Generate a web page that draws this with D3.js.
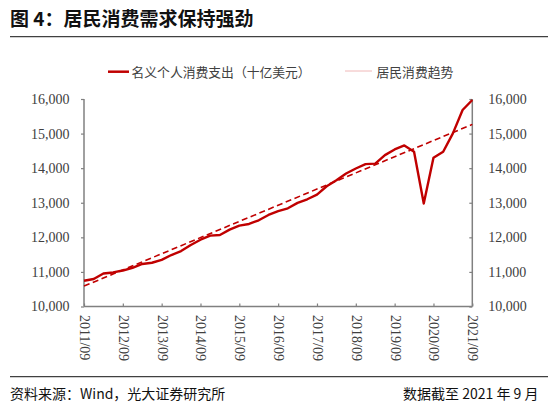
<!DOCTYPE html>
<html><head><meta charset="utf-8">
<script src="https://cdn.jsdelivr.net/npm/d3@7"></script>
<style>
html,body{margin:0;padding:0;background:#fff;}
svg{display:block;}
</style>
</head><body>
<svg id="chart" width="550" height="405"></svg>
<script>
const quarters = ["2011/09","2011/12","2012/03","2012/06","2012/09","2012/12","2013/03","2013/06","2013/09","2013/12",
  "2014/03","2014/06","2014/09","2014/12","2015/03","2015/06","2015/09","2015/12","2016/03","2016/06",
  "2016/09","2016/12","2017/03","2017/06","2017/09","2017/12","2018/03","2018/06","2018/09","2018/12",
  "2019/03","2019/06","2019/09","2019/12","2020/03","2020/06","2020/09","2020/12","2021/03","2021/06","2021/09"];
const pce = [10746,10795,10955,10985,11040,11120,11230,11265,11350,11488,
  11604,11778,11932,12048,12067,12222,12338,12386,12493,12647,
  12760,12840,12995,13101,13237,13478,13652,13845,13990,14116,
  14130,14377,14541,14657,14473,12976,14300,14473,15005,15681,15971];
const trendDates = ["2011/09","2021/09"];
const trendValues = [10590,15266];
const xTickLabels = ["2011/09","2012/09","2013/09","2014/09","2015/09","2016/09","2017/09","2018/09","2019/09","2020/09","2021/09"];
const yTicks = [10000,11000,12000,13000,14000,15000,16000];
const title = "图 4：居民消费需求保持强劲";
const seriesNames = ["名义个人消费支出（十亿美元）","居民消费趋势"];
const source = "资料来源：Wind，光大证券研究所";
const note = "数据截至 2021 年 9 月";

const svg = d3.select("#chart");
const red = "#c00000";
const axisColor = "#808080";
const sans = "'Noto Sans CJK SC','Noto Sans',sans-serif";
const serif = "'Liberation Serif','DejaVu Serif',serif";

const x = d3.scalePoint().domain(quarters).range([84, 472.3]);
const y = d3.scaleLinear().domain([10000,16000]).range([306.5, 99]);

// title
svg.append("text").attr("x",10).attr("y",26).attr("font-family",sans).attr("font-weight","bold")
  .attr("font-size",19).attr("fill","#111").text(title);
svg.append("line").attr("x1",10).attr("x2",548).attr("y1",36.7).attr("y2",36.7)
  .attr("stroke","#404040").attr("stroke-width",1.3);

// legend
const lg = svg.append("g");
lg.append("line").attr("x1",108).attr("x2",129).attr("y1",71.7).attr("y2",71.7).attr("stroke",red).attr("stroke-width",2.5);
lg.append("text").attr("x",131.5).attr("y",71.7).attr("dominant-baseline","central").attr("font-family",sans)
  .attr("font-size",12.8).attr("fill","#404040").text(seriesNames[0]);
lg.append("line").attr("x1",345).attr("x2",372).attr("y1",71).attr("y2",71).attr("stroke","#f0b8b8").attr("stroke-width",1);
lg.append("text").attr("x",376.5).attr("y",71.7).attr("dominant-baseline","central").attr("font-family",sans)
  .attr("font-size",12.8).attr("fill","#404040").text(seriesNames[1]);

// axes
const leftAxis = d3.axisLeft(y).tickValues(yTicks).tickSize(3).tickPadding(11.5).tickFormat(d3.format(","));
const rightAxis = d3.axisRight(y).tickValues(yTicks).tickSize(-3).tickPadding(16).tickFormat(d3.format(","));
const bottomAxis = d3.axisBottom(x).tickValues(xTickLabels).tickSize(-3).tickFormat(d=>d);

function styleAxis(g){
  g.select(".domain").attr("stroke",axisColor).attr("stroke-width",1.5);
  g.selectAll(".tick line").attr("stroke",axisColor).attr("stroke-width",1.2);
  g.selectAll("text").attr("font-family",serif).attr("font-size",14).attr("fill","#404040");
}
const gl = svg.append("g").attr("transform","translate(84,0)").call(leftAxis);
gl.select(".domain").attr("d","M0,306.5V99");
styleAxis(gl);
const gr = svg.append("g").attr("transform","translate(472.3,0)").call(rightAxis);
gr.select(".domain").attr("d","M0,306.5V99");
styleAxis(gr);
const gb = svg.append("g").attr("transform","translate(0,306.5)").call(bottomAxis);
gb.select(".domain").attr("d","M84,0H472.3");
styleAxis(gb);
gb.selectAll(".tick text").attr("transform","rotate(90)").attr("text-anchor","start")
  .attr("x",8.5).attr("y",0).attr("dy","0").attr("dominant-baseline","central");

// trend line
const trend = trendDates.map((d,i)=>({d, v: trendValues[i]}));
svg.append("path").datum(trend)
  .attr("d", d3.line().x(p=>x(p.d)).y(p=>y(p.v)))
  .attr("fill","none").attr("stroke",red).attr("stroke-width",1.6).attr("stroke-dasharray","6,3.5");

// data line
const data = quarters.map((q,i)=>({q, v: pce[i]}));
svg.append("path").datum(data)
  .attr("d", d3.line().x(p=>x(p.q)).y(p=>y(p.v)))
  .attr("fill","none").attr("stroke",red).attr("stroke-width",2.4).attr("stroke-linejoin","round");

// footer
svg.append("line").attr("x1",10).attr("x2",548).attr("y1",376.7).attr("y2",376.7)
  .attr("stroke","#404040").attr("stroke-width",1.3);
svg.append("text").attr("x",10).attr("y",393).attr("dominant-baseline","central").attr("font-family",sans)
  .attr("font-size",14).attr("fill","#111").text(source);
svg.append("text").attr("x",538.5).attr("y",393).attr("text-anchor","end").attr("dominant-baseline","central")
  .attr("font-family",sans).attr("font-size",14).attr("fill","#111").text(note);
</script>
</body></html>
